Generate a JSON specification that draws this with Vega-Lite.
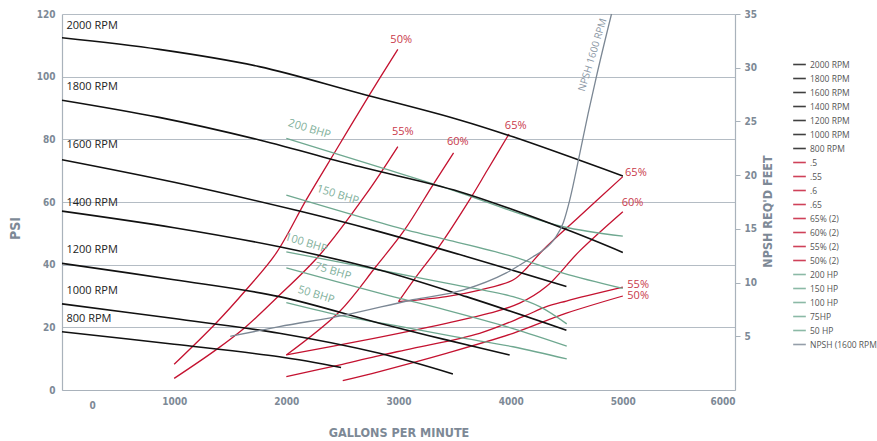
{
"$schema":"https://vega.github.io/schema/vega-lite/v6.json",
"width":673,"height":376,
"autosize":{"type":"none"},
"padding":{"left":62,"top":14,"right":142,"bottom":51},
"config":{"view":{"stroke":null},"font":"Open Sans",
 "legend":{"symbolType":"stroke","symbolStrokeWidth":1.6,"symbolSize":160,"labelFontSize":8.5,"labelColor":"#555555","labelFont":"Open Sans","rowPadding":2,"labelOffset":3,"symbolOpacity":0.8}},
"datasets":{
"curves":[
{"series":"2000 RPM","kind":"rpm","gpm":0,"psi":112.4},{"series":"2000 RPM","kind":"rpm","gpm":866,"psi":108.7},{"series":"2000 RPM","kind":"rpm","gpm":1759,"psi":103.2},{"series":"2000 RPM","kind":"rpm","gpm":2652,"psi":94.7},{"series":"2000 RPM","kind":"rpm","gpm":3545,"psi":86.2},{"series":"2000 RPM","kind":"rpm","gpm":4021,"psi":80.8},{"series":"2000 RPM","kind":"rpm","gpm":5000,"psi":68.3},
{"series":"1800 RPM","kind":"rpm","gpm":0,"psi":92.5},{"series":"1800 RPM","kind":"rpm","gpm":866,"psi":87.0},{"series":"1800 RPM","kind":"rpm","gpm":1759,"psi":79.8},{"series":"1800 RPM","kind":"rpm","gpm":2652,"psi":71.3},{"series":"1800 RPM","kind":"rpm","gpm":3545,"psi":63.3},{"series":"1800 RPM","kind":"rpm","gpm":4497,"psi":51.2},{"series":"1800 RPM","kind":"rpm","gpm":5000,"psi":43.9},
{"series":"1600 RPM","kind":"rpm","gpm":0,"psi":73.5},{"series":"1600 RPM","kind":"rpm","gpm":1000,"psi":66.3},{"series":"1600 RPM","kind":"rpm","gpm":2116,"psi":57.1},{"series":"1600 RPM","kind":"rpm","gpm":2771,"psi":51.1},{"series":"1600 RPM","kind":"rpm","gpm":3604,"psi":42.6},{"series":"1600 RPM","kind":"rpm","gpm":4497,"psi":33.0},
{"series":"1400 RPM","kind":"rpm","gpm":0,"psi":57.1},{"series":"1400 RPM","kind":"rpm","gpm":1000,"psi":51.8},{"series":"1400 RPM","kind":"rpm","gpm":1938,"psi":45.7},{"series":"1400 RPM","kind":"rpm","gpm":2830,"psi":38.3},{"series":"1400 RPM","kind":"rpm","gpm":3604,"psi":29.8},{"series":"1400 RPM","kind":"rpm","gpm":4497,"psi":19.1},
{"series":"1200 RPM","kind":"rpm","gpm":0,"psi":40.4},{"series":"1200 RPM","kind":"rpm","gpm":1000,"psi":35.2},{"series":"1200 RPM","kind":"rpm","gpm":1938,"psi":29.8},{"series":"1200 RPM","kind":"rpm","gpm":2830,"psi":21.3},{"series":"1200 RPM","kind":"rpm","gpm":3426,"psi":16.0},{"series":"1200 RPM","kind":"rpm","gpm":3991,"psi":11.2},
{"series":"1000 RPM","kind":"rpm","gpm":0,"psi":27.5},{"series":"1000 RPM","kind":"rpm","gpm":1000,"psi":22.8},{"series":"1000 RPM","kind":"rpm","gpm":1938,"psi":18.1},{"series":"1000 RPM","kind":"rpm","gpm":2830,"psi":11.7},{"series":"1000 RPM","kind":"rpm","gpm":3485,"psi":5.1},
{"series":"800 RPM","kind":"rpm","gpm":0,"psi":18.6},{"series":"800 RPM","kind":"rpm","gpm":1000,"psi":14.6},{"series":"800 RPM","kind":"rpm","gpm":1938,"psi":10.6},{"series":"800 RPM","kind":"rpm","gpm":2488,"psi":7.2},
{"series":".5","kind":"eff","gpm":1000,"psi":8.2},{"series":".5","kind":"eff","gpm":1372,"psi":21.3},{"series":".5","kind":"eff","gpm":1640,"psi":31.9},{"series":".5","kind":"eff","gpm":1908,"psi":43.6},{"series":".5","kind":"eff","gpm":2176,"psi":60.6},{"series":".5","kind":"eff","gpm":2444,"psi":76.6},{"series":".5","kind":"eff","gpm":2741,"psi":94.2},{"series":".5","kind":"eff","gpm":2994,"psi":108.7},
{"series":".55","kind":"eff","gpm":1000,"psi":3.7},{"series":".55","kind":"eff","gpm":1372,"psi":12.8},{"series":".55","kind":"eff","gpm":1640,"psi":20.2},{"series":".55","kind":"eff","gpm":1908,"psi":29.2},{"series":".55","kind":"eff","gpm":2295,"psi":43.0},{"series":".55","kind":"eff","gpm":2711,"psi":62.5},{"series":".55","kind":"eff","gpm":2994,"psi":77.7},
{"series":".6","kind":"eff","gpm":2000,"psi":11.2},{"series":".6","kind":"eff","gpm":2473,"psi":25.0},{"series":".6","kind":"eff","gpm":2801,"psi":39.5},{"series":".6","kind":"eff","gpm":3054,"psi":51.1},{"series":".6","kind":"eff","gpm":3306,"psi":65.4},{"series":".6","kind":"eff","gpm":3491,"psi":75.7},
{"series":".65","kind":"eff","gpm":3000,"psi":28.2},{"series":".65","kind":"eff","gpm":3158,"psi":36.2},{"series":".65","kind":"eff","gpm":3366,"psi":46.0},{"series":".65","kind":"eff","gpm":3632,"psi":60.6},{"series":".65","kind":"eff","gpm":3793,"psi":70.2},{"series":".65","kind":"eff","gpm":3985,"psi":81.7},
{"series":"65% (2)","kind":"eff","gpm":3000,"psi":28.2},{"series":"65% (2)","kind":"eff","gpm":3426,"psi":29.8},{"series":"65% (2)","kind":"eff","gpm":3723,"psi":31.9},{"series":"65% (2)","kind":"eff","gpm":4021,"psi":35.1},{"series":"65% (2)","kind":"eff","gpm":4150,"psi":39.2},{"series":"65% (2)","kind":"eff","gpm":4289,"psi":44.7},{"series":"65% (2)","kind":"eff","gpm":4600,"psi":55.0},{"series":"65% (2)","kind":"eff","gpm":5000,"psi":68.1},
{"series":"60% (2)","kind":"eff","gpm":2000,"psi":11.2},{"series":"60% (2)","kind":"eff","gpm":2652,"psi":15.6},{"series":"60% (2)","kind":"eff","gpm":3426,"psi":21.3},{"series":"60% (2)","kind":"eff","gpm":3812,"psi":24.5},{"series":"60% (2)","kind":"eff","gpm":4080,"psi":27.7},{"series":"60% (2)","kind":"eff","gpm":4318,"psi":33.0},{"series":"60% (2)","kind":"eff","gpm":4616,"psi":44.4},{"series":"60% (2)","kind":"eff","gpm":5000,"psi":56.9},
{"series":"55% (2)","kind":"eff","gpm":2000,"psi":4.3},{"series":"55% (2)","kind":"eff","gpm":2500,"psi":8.2},{"series":"55% (2)","kind":"eff","gpm":2830,"psi":11.0},{"series":"55% (2)","kind":"eff","gpm":3128,"psi":13.3},{"series":"55% (2)","kind":"eff","gpm":3723,"psi":18.1},{"series":"55% (2)","kind":"eff","gpm":4110,"psi":23.4},{"series":"55% (2)","kind":"eff","gpm":4318,"psi":26.6},{"series":"55% (2)","kind":"eff","gpm":4497,"psi":28.4},{"series":"55% (2)","kind":"eff","gpm":5000,"psi":32.8},
{"series":"50% (2)","kind":"eff","gpm":2503,"psi":3.0},{"series":"50% (2)","kind":"eff","gpm":2830,"psi":5.9},{"series":"50% (2)","kind":"eff","gpm":3426,"psi":11.7},{"series":"50% (2)","kind":"eff","gpm":4021,"psi":18.1},{"series":"50% (2)","kind":"eff","gpm":4497,"psi":24.5},{"series":"50% (2)","kind":"eff","gpm":5000,"psi":30.0},
{"series":"200 HP","kind":"hp","gpm":2000,"psi":80.3},{"series":"200 HP","kind":"hp","gpm":2830,"psi":71.1},{"series":"200 HP","kind":"hp","gpm":3545,"psi":63.0},{"series":"200 HP","kind":"hp","gpm":4021,"psi":57.0},{"series":"200 HP","kind":"hp","gpm":4467,"psi":52.1},{"series":"200 HP","kind":"hp","gpm":5000,"psi":49.1},
{"series":"150 HP","kind":"hp","gpm":2000,"psi":62.2},{"series":"150 HP","kind":"hp","gpm":3069,"psi":51.1},{"series":"150 HP","kind":"hp","gpm":3426,"psi":48.0},{"series":"150 HP","kind":"hp","gpm":4021,"psi":42.6},{"series":"150 HP","kind":"hp","gpm":4467,"psi":37.3},{"series":"150 HP","kind":"hp","gpm":5000,"psi":32.4},
{"series":"100 HP","kind":"hp","gpm":2000,"psi":44.1},{"series":"100 HP","kind":"hp","gpm":2830,"psi":38.3},{"series":"100 HP","kind":"hp","gpm":3426,"psi":34.1},{"series":"100 HP","kind":"hp","gpm":4021,"psi":29.8},{"series":"100 HP","kind":"hp","gpm":4259,"psi":26.6},{"series":"100 HP","kind":"hp","gpm":4500,"psi":21.1},
{"series":"75HP","kind":"hp","gpm":2000,"psi":39.0},{"series":"75HP","kind":"hp","gpm":2830,"psi":30.9},{"series":"75HP","kind":"hp","gpm":3426,"psi":25.5},{"series":"75HP","kind":"hp","gpm":4021,"psi":19.6},{"series":"75HP","kind":"hp","gpm":4500,"psi":14.0},
{"series":"50 HP","kind":"hp","gpm":2000,"psi":27.9},{"series":"50 HP","kind":"hp","gpm":2533,"psi":23.4},{"series":"50 HP","kind":"hp","gpm":3000,"psi":20.4},{"series":"50 HP","kind":"hp","gpm":3500,"psi":17.0},{"series":"50 HP","kind":"hp","gpm":4021,"psi":13.8},{"series":"50 HP","kind":"hp","gpm":4500,"psi":9.9}
],
"npsh":[
{"series":"NPSH (1600 RPM)","gpm":1500,"feet":5.0},{"series":"NPSH (1600 RPM)","gpm":1938,"feet":5.9},{"series":"NPSH (1600 RPM)","gpm":2533,"feet":7.0},{"series":"NPSH (1600 RPM)","gpm":3128,"feet":8.4},{"series":"NPSH (1600 RPM)","gpm":3574,"feet":9.3},{"series":"NPSH (1600 RPM)","gpm":3961,"feet":10.9},{"series":"NPSH (1600 RPM)","gpm":4199,"feet":12.4},{"series":"NPSH (1600 RPM)","gpm":4289,"feet":13.0},{"series":"NPSH (1600 RPM)","gpm":4400,"feet":14.2},{"series":"NPSH (1600 RPM)","gpm":4470,"feet":15.6},{"series":"NPSH (1600 RPM)","gpm":4527,"feet":17.7},{"series":"NPSH (1600 RPM)","gpm":4616,"feet":22.0},{"series":"NPSH (1600 RPM)","gpm":4690,"feet":25.7},{"series":"NPSH (1600 RPM)","gpm":4765,"feet":29.2},{"series":"NPSH (1600 RPM)","gpm":4899,"feet":35.0}
],
"rpmLabels":[
{"label":"2000 RPM","gpm":40,"psi":116.3},{"label":"1800 RPM","gpm":40,"psi":96.7},{"label":"1600 RPM","gpm":40,"psi":78.2},{"label":"1400 RPM","gpm":40,"psi":59.6},{"label":"1200 RPM","gpm":40,"psi":44.7},{"label":"1000 RPM","gpm":40,"psi":31.6},{"label":"800 RPM","gpm":40,"psi":22.7}
],
"effLabels":[
{"label":"50%","gpm":3024,"psi":111.7},{"label":"55%","gpm":3038,"psi":82.4},{"label":"60%","gpm":3529,"psi":79.0},{"label":"65%","gpm":4045,"psi":84.3}
],
"effLabels2":[
{"label":"65%","gpm":5020,"psi":69.4},{"label":"60%","gpm":4990,"psi":59.6},{"label":"55%","gpm":5040,"psi":33.6},{"label":"50%","gpm":5040,"psi":30.0}
],
"hpLabels":[
{"label":"200 BHP","gpm":2205,"psi":83.2},{"label":"150 BHP","gpm":2458,"psi":62.2},{"label":"100 BHP","gpm":2176,"psi":46.8},{"label":"75 BHP","gpm":2414,"psi":37.8},{"label":"50 BHP","gpm":2265,"psi":30.3}
],
"npshLabel":[{"label":"NPSH 1600 RPM","gpm":4732,"feet":31.2}]
},
"layer":[
{"layer":[
 {"data":{"name":"curves"},"transform":[{"filter":"datum.kind !== 'rpm'"}],
  "mark":{"type":"line","interpolate":"catmull-rom","strokeWidth":1.3},
  "encoding":{
   "x":{"field":"gpm","type":"quantitative","scale":{"domain":[0,6000]},
    "axis":{"values":[0,1000,2000,3000,4000,5000,6000],"format":"d","grid":false,"ticks":false,"domainColor":"#a9b2bb","domainWidth":1.2,
     "labelFont":"Liberation Sans Narrow, DejaVu Sans Condensed, sans-serif","labelFontWeight":"bold","labelFontSize":10,"labelColor":"#7d8996",
     "labelPadding":{"condition":{"test":"datum.value === 0","value":10},"value":6},
     "labelOffset":{"condition":{"test":"datum.value === 0","value":27},"value":0},
     "title":"GALLONS PER MINUTE","titleFont":"Liberation Sans Narrow, DejaVu Sans Condensed, sans-serif","titleFontSize":12.5,"titleFontWeight":"bold","titleColor":"#7d8996","titleY":42,"titleBaseline":"middle"}},
   "y":{"field":"psi","type":"quantitative","scale":{"domain":[0,120]},
    "axis":{"values":[0,20,40,60,80,100,120],"grid":true,"gridColor":"#b4bcc4","gridWidth":1.2,"ticks":false,"domainColor":"#a9b2bb","domainWidth":1.2,
     "labelFont":"Liberation Sans Narrow, DejaVu Sans Condensed, sans-serif","labelFontWeight":"bold","labelFontSize":10,"labelColor":"#7d8996","labelPadding":7,
     "title":"PSI","titleFont":"Liberation Sans Narrow, DejaVu Sans Condensed, sans-serif","titleFontSize":14,"titleFontWeight":"bold","titleColor":"#7d8996","titleAngle":270,"titleX":-47,"titleY":214,"titleBaseline":"middle"}},
   "color":{"field":"series","type":"nominal","sort":null,
    "scale":{"domain":["2000 RPM","1800 RPM","1600 RPM","1400 RPM","1200 RPM","1000 RPM","800 RPM",".5",".55",".6",".65","65% (2)","60% (2)","55% (2)","50% (2)","200 HP","150 HP","100 HP","75HP","50 HP","NPSH (1600 RPM)"],
     "range":["#111111","#111111","#111111","#111111","#111111","#111111","#111111","#c41230","#c41230","#c41230","#c41230","#c41230","#c41230","#c41230","#c41230","#6fa890","#6fa890","#6fa890","#6fa890","#6fa890","#7b8794"]},
    "legend":{"title":null,"orient":"none","legendX":730,"legendY":43}}
  }},
 {"data":{"name":"curves"},"transform":[{"filter":"datum.kind === 'rpm'"}],
  "mark":{"type":"line","interpolate":"catmull-rom","strokeWidth":1.6},
  "encoding":{
   "x":{"field":"gpm","type":"quantitative"},
   "y":{"field":"psi","type":"quantitative"},
   "color":{"field":"series","type":"nominal"}
  }},
 {"data":{"name":"rpmLabels"},"mark":{"type":"text","align":"left","baseline":"middle","fontSize":11,"color":"#222222","font":"Open Sans"},
  "encoding":{"x":{"field":"gpm","type":"quantitative"},"y":{"field":"psi","type":"quantitative"},"text":{"field":"label"}}},
 {"data":{"name":"effLabels"},"mark":{"type":"text","align":"center","baseline":"middle","fontSize":11,"color":"#c9394b","font":"Open Sans"},
  "encoding":{"x":{"field":"gpm","type":"quantitative"},"y":{"field":"psi","type":"quantitative"},"text":{"field":"label"}}},
 {"data":{"name":"effLabels2"},"mark":{"type":"text","align":"left","baseline":"middle","fontSize":11,"color":"#c9394b","font":"Open Sans"},
  "encoding":{"x":{"field":"gpm","type":"quantitative"},"y":{"field":"psi","type":"quantitative"},"text":{"field":"label"}}},
 {"data":{"name":"hpLabels"},"mark":{"type":"text","align":"center","baseline":"middle","fontSize":11,"angle":17,"color":"#7fb09b","font":"Open Sans"},
  "encoding":{"x":{"field":"gpm","type":"quantitative"},"y":{"field":"psi","type":"quantitative"},"text":{"field":"label"}}}
]},
{"layer":[
 {"data":{"name":"npsh"},"mark":{"type":"line","interpolate":"monotone","strokeWidth":1.3},
  "encoding":{
   "x":{"field":"gpm","type":"quantitative"},
   "y":{"field":"feet","type":"quantitative","scale":{"domain":[0,35]},
    "axis":{"orient":"right","values":[5,10,15,20,25,30,35],"grid":false,"ticks":true,"tickSize":5,"tickColor":"#a9b2bb","domainColor":"#a9b2bb","domainWidth":1.2,
     "labelFont":"Liberation Sans Narrow, DejaVu Sans Condensed, sans-serif","labelFontWeight":"bold","labelFontSize":10,"labelColor":"#7d8996","labelPadding":4,
     "title":"NPSH REQ'D FEET","titleFont":"Liberation Sans Narrow, DejaVu Sans Condensed, sans-serif","titleFontSize":12.5,"titleFontWeight":"bold","titleColor":"#7d8996","titleAngle":270,"titleX":32,"titleY":197,"titleBaseline":"middle"}},
   "color":{"field":"series","type":"nominal"}
  }},
 {"data":{"name":"npshLabel"},"mark":{"type":"text","align":"center","baseline":"middle","fontSize":10,"angle":-73,"color":"#8a96a3","font":"Open Sans"},
  "encoding":{"x":{"field":"gpm","type":"quantitative"},"y":{"field":"feet","type":"quantitative"},"text":{"field":"label"}}}
]}
],
"resolve":{"scale":{"y":"independent"}}
}
